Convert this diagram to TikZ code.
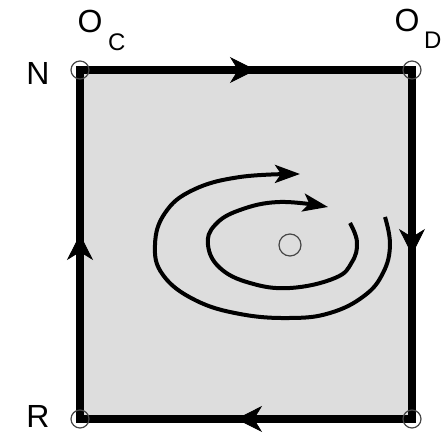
\documentclass[tikz,border=0pt]{standalone}
\usepackage{fontspec}
\setmainfont{Liberation Sans}
\usetikzlibrary{arrows.meta, positioning, decorations.markings}
\definecolor{cellgray}{RGB}{221,221,221}
\definecolor{ringgray}{RGB}{70,70,70}

\begin{document}
\begin{tikzpicture}[
    x=0.5pt, y=-0.5pt,
    tag/.style={inner sep=0pt, font=\fontsize{16}{16}\selectfont},
    subtag/.style={inner sep=0pt, font=\fontsize{12}{12}\selectfont},
    ring/.style={draw=ringgray, line width=0.6pt},
    edge/.style={line width=4pt, line join=miter},
    flow/.style={postaction={decorate}, decoration={markings,
      mark=at position 0.53 with {\arrow{Stealth[length=13pt, width=13pt, inset=4pt]}}}},
    orbit/.style={line width=2pt, -{Stealth[length=12.5pt, width=9pt, inset=3pt]}}
  ]

    \useasboundingbox (0,0) rectangle (447,433);

    % Ecken des Zustandsraums
    \coordinate (cN)  at (80,70);
    \coordinate (cOD) at (412,70);
    \coordinate (cS)  at (412,419);
    \coordinate (cR)  at (80,419);
    \coordinate (cM)  at (290,245);

    % Rahmen mit Umlaufrichtung
    \fill[cellgray] (cN) rectangle (cS);
    \draw[edge] (cN) -- (cOD) -- (cS) -- (cR) -- cycle;
    \path[flow] (cN) -- (cOD);
    \path[flow] (cOD) -- (cS);
    \path[flow] (cS) -- (cR);
    \path[flow] (cR) -- (cN);

    % Spiralen um den inneren Punkt
    \draw[orbit] plot[smooth, tension=0.7] coordinates {
      (385,217) (390,245) (383,273) (364,296) (330,313) (290,318) (240,314)
      (195,300) (163,275) (155,245) (165,213) (193,190) (240,177) (300,174)};
    \draw[orbit] plot[smooth, tension=0.7] coordinates {
      (350,223) (357,242) (352,262) (335,278) (290,288) (250,283)
      (220,268) (208,245) (215,225) (240,210) (280,202) (328,207)};

    % Punkte
    \draw[ring] (cN)  circle[radius=4.5pt];
    \draw[ring] (cOD) circle[radius=4.5pt];
    \draw[ring] (cS)  circle[radius=4.5pt];
    \draw[ring] (cR)  circle[radius=4.5pt];
    \draw[ring] (cM)  circle[radius=5.5pt];

    % Beschriftungen
    \node[tag, left=15pt of cN, yshift=-1.75pt] (lN) {N};
    \node[tag, left=15pt of cR, yshift=1.25pt] (lR) {R};
    \node[tag, above=18.5pt of cN, xshift=5pt] (lOC) {O};
    \node[subtag, below right=0pt and 2.5pt of lOC] (lC) {C};
    \node[tag, above=19pt of cOD, xshift=-2.5pt] (lOD) {O};
    \node[subtag, below right=0pt and 2pt of lOD] (lD) {D};

\end{tikzpicture}
\end{document}
